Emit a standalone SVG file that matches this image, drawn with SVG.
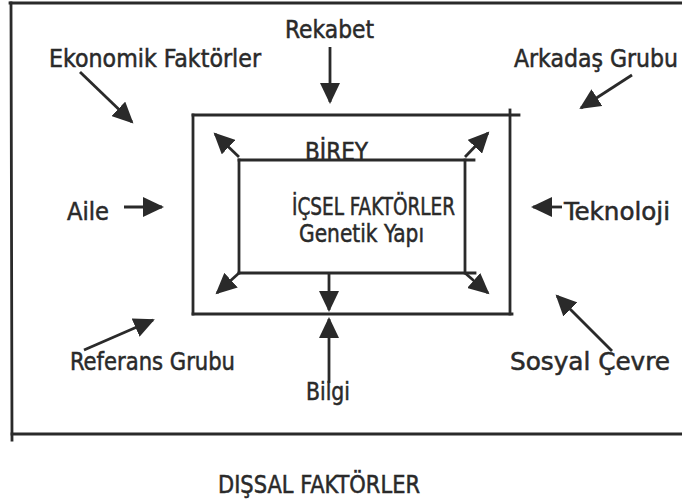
<svg xmlns="http://www.w3.org/2000/svg" width="682" height="504" viewBox="0 0 682 504">
<style>
.t{font-family:"DejaVu Sans Condensed","DejaVu Sans",Tahoma,sans-serif;font-size:25px;fill:#2a2a2a;stroke:#2a2a2a;stroke-width:0.5}
.l{stroke:#2a2a2a;stroke-width:2.8;fill:none;stroke-linecap:square}
.a{stroke:#2a2a2a;stroke-width:2.8;fill:none;marker-end:url(#ah)}
</style>
<defs>
<marker id="ah" markerUnits="userSpaceOnUse" markerWidth="22" markerHeight="20" refX="19" refY="10" orient="auto" viewBox="0 0 22 20">
<path d="M0,0 L21,10 L0,20 z" fill="#2a2a2a"/>
</marker>
</defs>
<rect width="682" height="504" fill="#ffffff"/>
<g id="outer-frame">
<line class="l" x1="10" y1="3" x2="682" y2="3"/>
<line class="l" x1="11" y1="3" x2="12" y2="440"/>
<line class="l" x1="12" y1="434" x2="682" y2="434"/>
<text class="t" x="218" y="493" textLength="202" lengthAdjust="spacingAndGlyphs">DIŞSAL FAKTÖRLER</text>
</g>
<g id="birey">
<line class="l" x1="193" y1="115" x2="519" y2="115"/>
<line class="l" x1="193" y1="115" x2="193" y2="314"/>
<line class="l" x1="510" y1="110" x2="510" y2="314"/>
<line class="l" x1="193" y1="314" x2="512" y2="314"/>
<text class="t" x="305" y="160" textLength="63" lengthAdjust="spacingAndGlyphs">BİREY</text>
</g>
<g id="icsel">
<line class="l" x1="239" y1="160" x2="474" y2="160"/>
<line class="l" x1="239" y1="160" x2="239" y2="273"/>
<line class="l" x1="465" y1="160" x2="465" y2="273"/>
<line class="l" x1="239" y1="273" x2="475" y2="273"/>
<text class="t" x="292" y="215" textLength="163" lengthAdjust="spacingAndGlyphs">İÇSEL FAKTÖRLER</text>
<text class="t" x="299" y="242" textLength="125" lengthAdjust="spacingAndGlyphs">Genetik Yapı</text>
</g>
<g id="rekabet"><text class="t" x="285" y="38" textLength="89" lengthAdjust="spacingAndGlyphs">Rekabet</text></g>
<g id="ekonomik"><text class="t" x="49" y="67" textLength="212" lengthAdjust="spacingAndGlyphs">Ekonomik Faktörler</text></g>
<g id="arkadas"><text class="t" x="514" y="67" textLength="164" lengthAdjust="spacingAndGlyphs">Arkadaş Grubu</text></g>
<g id="aile"><text class="t" x="67" y="220" textLength="42" lengthAdjust="spacingAndGlyphs">Aile</text></g>
<g id="teknoloji"><text class="t" x="564" y="220" textLength="106" lengthAdjust="spacingAndGlyphs">Teknoloji</text></g>
<g id="referans"><text class="t" x="70" y="370" textLength="165" lengthAdjust="spacingAndGlyphs">Referans Grubu</text></g>
<g id="sosyal"><text class="t" x="510" y="370" textLength="160" lengthAdjust="spacingAndGlyphs">Sosyal Çevre</text></g>
<g id="bilgi"><text class="t" x="306" y="400" textLength="44" lengthAdjust="spacingAndGlyphs">Bilgi</text></g>
<g id="connectors">
<line class="a" x1="330" y1="47" x2="330" y2="102"/>
<line class="a" x1="80" y1="72" x2="132" y2="122"/>
<line class="a" x1="632" y1="75" x2="581" y2="108"/>
<line class="a" x1="124" y1="207" x2="162" y2="207"/>
<line class="a" x1="562" y1="207" x2="533" y2="207"/>
<line class="a" x1="84" y1="350" x2="153" y2="320"/>
<line class="a" x1="612" y1="351" x2="557" y2="296"/>
<line class="a" x1="329" y1="383" x2="329" y2="319"/>
<line class="a" x1="239" y1="157" x2="215" y2="134"/>
<line class="a" x1="465" y1="157" x2="488" y2="133"/>
<line class="a" x1="239" y1="273" x2="217" y2="293"/>
<line class="a" x1="465" y1="273" x2="488" y2="293"/>
<line class="a" x1="329" y1="273" x2="329" y2="310"/>
</g>
</svg>
